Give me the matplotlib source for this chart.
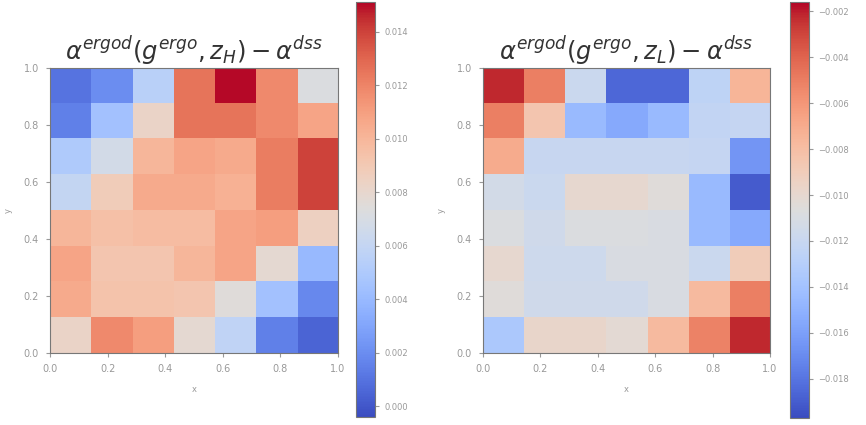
import numpy as np
import matplotlib
matplotlib.use('Agg')
import matplotlib.pyplot as plt

# cell values, rows from top (y=1) to bottom (y=0), 7 columns along x
diff_high = [
    [0.0010, 0.0020, 0.0055, 0.0125, 0.0150, 0.0118, 0.0072],
    [0.0015, 0.0045, 0.0082, 0.0125, 0.0125, 0.0118, 0.0108],
    [0.0050, 0.0068, 0.0100, 0.0108, 0.0105, 0.0122, 0.0140],
    [0.0060, 0.0088, 0.0105, 0.0105, 0.0102, 0.0122, 0.0140],
    [0.0100, 0.0095, 0.0097, 0.0097, 0.0108, 0.0110, 0.0085],
    [0.0108, 0.0092, 0.0092, 0.0100, 0.0108, 0.0078, 0.0040],
    [0.0105, 0.0093, 0.0093, 0.0092, 0.0075, 0.0045, 0.0018],
    [0.0082, 0.0118, 0.0110, 0.0078, 0.0058, 0.0015, 0.0005],
]
diff_low = [
    [-0.0022, -0.0050, -0.0118, -0.0185, -0.0185, -0.0125, -0.0075],
    [-0.0050, -0.0085, -0.0145, -0.0155, -0.0145, -0.0123, -0.0122],
    [-0.0070, -0.0120, -0.0120, -0.0120, -0.0120, -0.0122, -0.0165],
    [-0.0113, -0.0118, -0.0100, -0.0100, -0.0105, -0.0145, -0.0190],
    [-0.0108, -0.0115, -0.0108, -0.0108, -0.0110, -0.0145, -0.0155],
    [-0.0100, -0.0117, -0.0117, -0.0110, -0.0110, -0.0118, -0.0090],
    [-0.0105, -0.0115, -0.0115, -0.0115, -0.0110, -0.0078, -0.0050],
    [-0.0135, -0.0098, -0.0098, -0.0102, -0.0078, -0.0052, -0.0022],
]
limits_high = (-0.0004, 0.0151)
limits_low = (-0.0197, -0.0016)
ticks_high = np.arange(0.0, 0.0141, 0.002)
ticks_low = np.arange(-0.018, -0.0019, 0.002)
titles = [r'$\alpha^{ergod}(g^{ergo}, z_H) - \alpha^{dss}$',
          r'$\alpha^{ergod}(g^{ergo}, z_L) - \alpha^{dss}$']

grey = '#999999'
fig = plt.figure(figsize=(8.66, 4.25), dpi=100)

panels = [
    (diff_high, limits_high, ticks_high, [0.0577, 0.1694, 0.3326, 0.6706], [0.411, 0.019, 0.022, 0.976]),
    (diff_low, limits_low, ticks_low, [0.5577, 0.1694, 0.3315, 0.6706], [0.912, 0.017, 0.022, 0.978]),
]

for (vals, lims, cticks, apos, cpos), title in zip(panels, titles):
    ax = fig.add_axes(apos)
    im = ax.imshow(np.array(vals), cmap='coolwarm', vmin=lims[0], vmax=lims[1],
                   extent=[0, 1, 0, 1], interpolation='nearest', aspect='auto')
    ax.set_title(title, fontsize=17.5, color='#333333', pad=4)
    ax.set_xticks(np.arange(0, 1.01, 0.2))
    ax.set_yticks(np.arange(0, 1.01, 0.2))
    ax.tick_params(colors=grey, labelsize=7, length=3, pad=5)
    ax.set_xlabel('x', fontsize=6, color=grey, labelpad=8)
    ax.set_ylabel('y', fontsize=6, color=grey, labelpad=8)
    for s in ax.spines.values():
        s.set_color('#777777')
    cax = fig.add_axes(cpos)
    cb = fig.colorbar(im, cax=cax, ticks=cticks)
    cb.ax.tick_params(colors=grey, labelsize=6, length=3)
    cb.ax.set_yticklabels(['%.3f' % t if t >= 0 else '\u2212%.3f' % -t for t in cticks])
    cb.outline.set_edgecolor('#777777')

fig.savefig('out.png', dpi=100)
